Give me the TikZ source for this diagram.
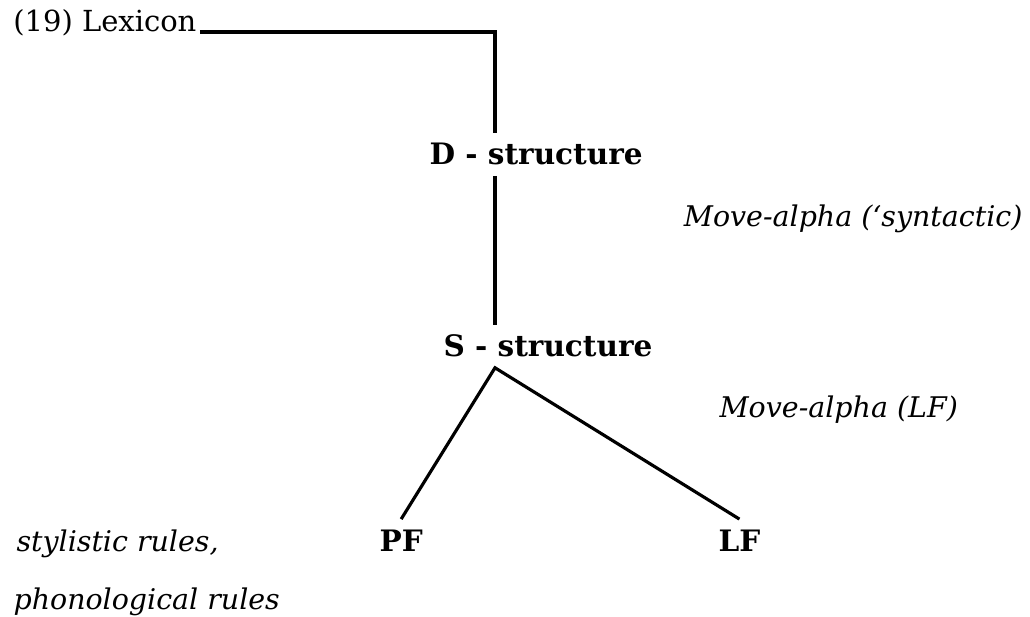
\documentclass[tikz,border=0pt]{standalone}
\usepackage{fontspec}
\setmainfont{DejaVu Serif}
\usepackage{tikz}
\usetikzlibrary{positioning}

\begin{document}
\begin{tikzpicture}[x=0.02cm,y=-0.02cm,line width=1.8pt,
    plain/.style={font=\fontsize{16.5}{20}\selectfont,inner sep=1pt},
    struct/.style={font=\fontsize{16.8}{20}\selectfont\bfseries,inner xsep=0pt,inner ysep=5pt},
    rules/.style={font=\fontsize{16.2}{20}\selectfont\itshape,inner sep=0pt}]
    \useasboundingbox (0,0) rectangle (1030,617);
    \node[plain,anchor=base west] (lex) at (10,32) {(19) Lexicon};
    \node[struct,anchor=base west] (ds) at (428,165) {D - structure};
    \node[struct,anchor=base west] (ss) at (442,357) {S - structure};
    \node[struct,anchor=base west] (pf) at (378,551) {PF};
    \node[struct,anchor=base west] (lf) at (717,551) {LF};
    \node[rules,anchor=base east] (movs) at (1024,227) {Move-alpha (`syntactic)};
    \node[rules,anchor=base west] (movl) at (718,418) {Move-alpha (LF)};
    \node[rules,anchor=base west] (styl) at (15,551) {stylistic rules,};
    \node[rules,anchor=base west] (phon) at (12,609) {phonological rules};
    \coordinate (bend) at (495,32);
    \draw (lex.base east) -- (bend) -- (bend |- ds.north);
    \draw (ds.south -| bend) -- (ss.north -| bend);
    \draw (pf.north) -- (ss.south -| bend) -- (lf.north);
\end{tikzpicture}
\end{document}
